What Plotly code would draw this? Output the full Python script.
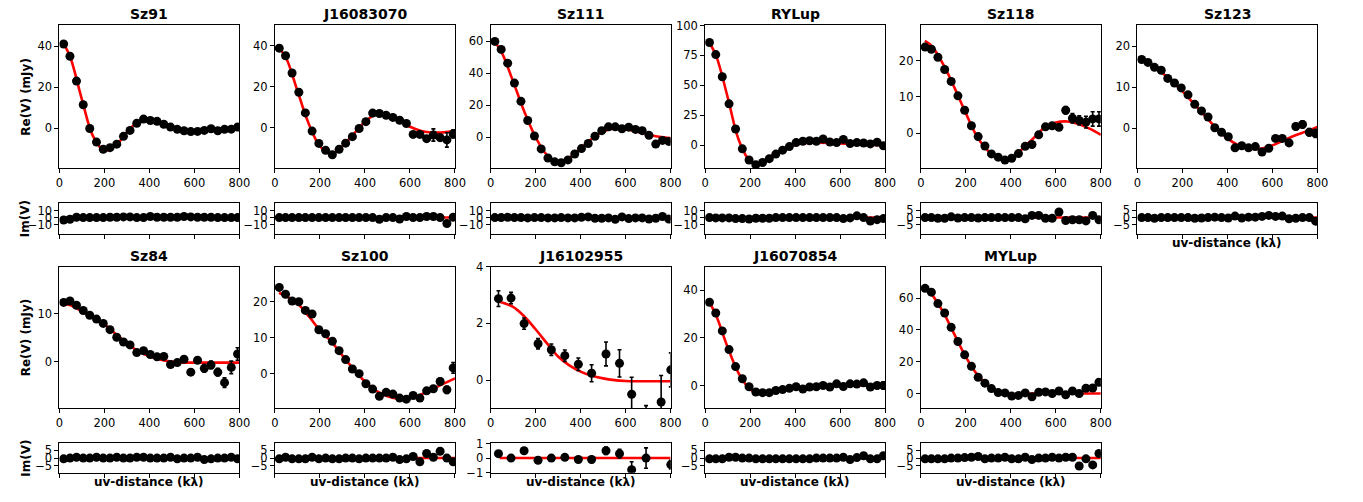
import plotly.graph_objects as go

# ---------------- data ----------------
uv_bins = [19, 47, 76, 106, 135, 165, 195, 225, 255, 285, 314, 344, 374, 404,
           434, 464, 494, 524, 554, 584, 614, 644, 674, 704, 734, 764, 792]
model_uv = [18, 50, 100, 150, 200, 250, 300, 350, 400, 450, 500, 550, 600, 650, 700, 750, 800]
x_ticks = [0, 200, 400, 600, 800]

sz91_re = [41, 35, 22.9, 11.4, -0.2, -6.8, -10.3, -9.5, -7.8, -4, -1.1, 2.4, 4.4, 3.7,
           3.3, 1.9, 0.5, -0.6, -1.3, -1.7, -1.6, -1.1, -0.3, -1.3, -0.6, -0.5, 0.5]
sz91_re_err = [0.4] * 27
sz91_im = [-3.5, -2.5, 0.5, 0, 0, 0, 0, 0.5, 0.5, 1, 1, 0, 0, 1.5, 0.5, 0.5, 0.5, 0.5,
           1.5, 1, 0.5, 0.5, 0.5, 0, 0, 0, 0]
sz91_im_err = [0.4] * 27
sz91_model = [41.5, 34, 14, -4, -11, -8.5, -2, 3, 4.2, 2.8, 0.5, -1, -1.5, -1, -0.3, 0.1, 0.2]

j1608_re = [38.9, 35.2, 26.8, 17.4, 7.3, -1.6, -7.6, -11, -13.2, -10.5, -7.5, -4.3, -0.3, 3.0,
            7.2, 7.0, 6.1, 5.1, 3.7, 2.1, -3.2, -3.2, -5.3, -3.5, -4.8, -5.9, -3.0]
j1608_re_err = [0.5] * 22 + [0.8, 3.0, 1.5, 3.5, 2.0]
j1608_im = [0, 0, 0, 0, 0, 0, 0, 0, 0, 0, 0, 0, 0, 0, 0, -2.5, 0, 0, -2, 1.5, 0, 0, 1.5,
            1.5, 0, -8.5, 0.5]
j1608_im_err = [0.5] * 27
j1608_model = [39, 34, 18, 2, -9, -13, -9, -3, 3, 6.5, 6, 3.5, 0.5, -1.5, -2.3, -2.2, -1.3]

sz111_re = [60, 55, 46.4, 33.9, 22.5, 10.5, 0.8, -7.3, -13, -15.4, -16, -14.2, -10.5, -7.1,
            -3.9, 0.6, 4.1, 6.5, 6.5, 5.3, 6.3, 4.9, 4.1, 1.2, -4.3, -2.0, -2.6]
sz111_re_err = [0.5] * 27
sz111_im = [0, 0, 0.5, 0, 0, -0.5, 0, 0, -0.5, -0.5, 0, -0.5, -0.5, 0.5, 1, -1, -1, -0.5,
            -2.5, 1, -1.5, -0.5, -0.5, -2, -1, 1.5, -2]
sz111_im_err = [0.5] * 27
sz111_model = [60, 53, 35, 16, 0, -11, -15.5, -13, -7, -1, 3.5, 5.5, 5, 3.5, 1.8, 0.3, -0.5]

rylup_re = [85.8, 75.7, 57.2, 34.6, 13.6, -3.0, -12.3, -16.3, -14.4, -11.2, -7.4, -4.1, -1.1,
            2.2, 3.3, 3.8, 3.3, 5.2, 2.7, 2.2, 4.9, 1.4, 2.2, 1.9, 1.1, 2.5, -0.5]
rylup_re_err = [0.6] * 27
rylup_im = [0, -0.5, -0.5, -0.5, -1.5, -1.5, -2, -1, -1, -1, 0, 0, 0, 0, 0, 0, 0, 0, 0, 0,
            -1.5, -0.5, 2.5, 0, -5, -3, -1.5]
rylup_im_err = [0.6] * 27
rylup_model = [86, 74, 40, 4, -13, -14, -8, -3, 0.5, 2, 2.2, 2, 1.5, 1, 0.5, 0.2, 0]

sz118_re = [23.8, 23.2, 21.0, 17.6, 14.3, 10.3, 6.3, 2.0, -1.0, -3.6, -5.8, -6.7, -7.5, -7.0,
            -5.7, -3.7, -3.2, -0.5, 1.7, 2.0, 1.6, 6.3, 4.1, 3.5, 3.0, 3.9, 3.9]
sz118_re_err = [0.3] * 21 + [1.0, 1.3, 1.3, 1.6, 2.0, 2.0]
sz118_im = [0, 0, -0.5, -0.5, 0.5, -0.3, 0, 0, -0.3, 0, 0, 0, 0, 0, 0, -0.8, 1.5, 1.5, -0.5,
            -0.5, 3.8, -2, -1.5, -1.5, -2.3, 1.5, -1.5]
sz118_im_err = [0.3] * 27
sz118_model = [25.5, 24, 19, 12.5, 5.5, -1, -5, -7, -7, -4.5, -1.5, 1.5, 2.9, 3.2, 2.5, 1.2, -0.5]

sz123_re = [16.7, 16.0, 14.8, 14.1, 12.1, 11.0, 9.8, 8.1, 5.8, 4.2, 2.7, 0.1, -1.0, -2.1,
            -4.8, -4.3, -4.8, -4.5, -5.8, -4.9, -2.5, -2.5, -3.6, 0.4, 0.9, -1.0, -1.3]
sz123_re_err = [0.3] * 20 + [0.6, 0.6, 0.8, 0.8, 0.9, 0.9, 1.0]
sz123_im = [0, 0, -0.5, 0, 0, 0, 0, 0, -0.5, -0.3, 0, 0.3, 0, -0.3, 1, -0.3, 0.3, 0.3,
            0.8, 1.5, 0.8, 1, -0.8, -0.5, 0, 0, -2.5]
sz123_im_err = [0.3] * 27
sz123_model = [16.5, 16, 14, 11.5, 9, 6, 3, 0, -2.5, -4.2, -5, -5, -4.2, -3, -1.8, -0.8, 0.3]

sz84_re = [12.4, 12.7, 11.8, 10.7, 9.7, 8.9, 8.0, 6.7, 5.1, 4.1, 3.5, 1.9, 2.3, 1.5, 1.0,
           1.1, -0.6, -0.2, 0.5, -2.2, 0.3, -1.4, -0.7, -2.2, -4.4, -1.2, 1.6]
sz84_re_err = [0.3] * 21 + [0.8, 0.8, 0.8, 1.0, 1.3, 1.3]
sz84_im = [-0.5, 0, 0.5, 0, 0, 0.5, 0, 0, 0.5, 0, 0, 0.5, 0.5, 0, 0, 0, 0.5, -0.5, 0, 0,
           0.5, -1, -0.5, 0, 0, 0.5, -0.5]
sz84_im_err = [0.3] * 27
sz84_model = [12.2, 11.8, 10.5, 9.2, 7.8, 5.8, 3.9, 2.2, 1.1, 0.4, 0, -0.2, -0.2, -0.2, -0.2, -0.2, -0.2]

sz100_re = [24.0, 22.1, 20.2, 20.0, 17.6, 16.6, 12.2, 11.1, 9.0, 6.4, 3.9, 1.3, 0, -2.8,
            -4.3, -6.3, -5.2, -5.7, -6.8, -7.1, -6.1, -6.8, -4.8, -4.2, -2.2, -4.5, 1.6]
sz100_re_err = [0.3] * 24 + [1.0, 1.0, 1.5]
sz100_im = [-0.5, 0.5, -0.5, -0.5, -0.5, 0.5, -0.5, 0, -0.5, -0.5, 0, 0, -0.5, 0, 0, 0, 0,
            0.5, -1, -0.5, 1, -2.5, 3, 0.5, 4.5, 0, -2.5]
sz100_im_err = [0.3] * 27
sz100_model = [22.5, 21.5, 19.5, 16, 12, 9, 5, 1.2, -2.2, -4.8, -6.3, -7, -6.8, -5.8, -4.3, -2.8, -1.3]

j1610_uv = [35, 91, 149, 211, 270, 330, 390, 449, 513, 573, 627, 691, 758, 801]
j1610_re = [2.87, 2.89, 1.99, 1.28, 1.07, 0.86, 0.56, 0.24, 0.92, 0.59, -0.5, -1.5, -0.77, 0.36]
j1610_re_err = [0.28, 0.2, 0.2, 0.18, 0.2, 0.2, 0.22, 0.3, 0.42, 0.48, 0.6, 0.6, 0.93, 0.6]
j1610_im = [0.3, 0.0, 0.5, -0.15, 0.0, 0.05, -0.1, -0.1, 0.5, 0.3, -0.8, 0.0, -1.6, -0.45]
j1610_im_err = [0.2, 0.1, 0.1, 0.1, 0.1, 0.1, 0.15, 0.2, 0.25, 0.3, 0.55, 0.7, 0.4, 0.3]
j1610_model_uv = [40, 100, 150, 200, 250, 300, 350, 400, 450, 500, 550, 600, 650, 700, 750, 800]
j1610_model = [2.76, 2.58, 2.24, 1.79, 1.3, 0.83, 0.52, 0.3, 0.15, 0.06, 0.0, -0.03, -0.04,
               -0.04, -0.04, -0.04]

j1607_re = [34.9, 30.4, 22.9, 15.1, 8.0, 2.9, -0.4, -2.6, -2.9, -2.9, -2.0, -1.6, -1.1, -0.4,
            -1.4, -0.5, -0.4, 0.1, -0.5, 0.8, -0.3, 0.8, 0.7, 1.2, -0.5, 0.1, 0.1]
j1607_re_err = [0.3] * 26 + [1.5]
j1607_im = [-0.5, -0.5, -0.5, 0.5, 0.5, 0, 0, -0.5, -0.5, -0.5, -0.5, -0.5, -0.5, -0.5, -0.5,
            -0.5, 0, 0, 0, 0, 0.5, -1, 0.3, 1.5, -0.5, -0.5, 1.5]
j1607_im_err = [0.3] * 27
j1607_model = [35, 29, 16, 5, -1.5, -2.8, -2.5, -1.6, -0.8, -0.3, 0, 0.1, 0.1, 0.1, 0.1, 0.1, 0.1]

mylup_re = [66.1, 63.7, 56.5, 50.6, 41.6, 32.7, 24.3, 17.1, 10.2, 6.5, 3.1, 0.6, 0.4, -1.6,
            -1.2, 0.4, -2.0, 0.8, 1.0, 0, 1.6, -0.8, 1.6, 0, 3.3, 3.5, 7.1]
mylup_re_err = [0.5] * 24 + [1.0, 1.5, 2.0]
mylup_im = [-0.5, -0.5, -0.5, -0.5, 0, 0, 0.3, 0.5, 1, -0.5, 0, 0, 0.5, -0.5, -0.5, 0.5, -1,
            0, 0, 0.5, 0, 0.5, 0.5, -5.2, -0.5, -4.5, 3.0]
mylup_im_err = [0.5] * 27
mylup_model = [66, 62, 51, 37, 23, 12, 5, 1, -0.3, -0.3, 0, 0, 0, 0, 0, 0, 0]

im_model_level = 0.0

panels = [
    dict(name="Sz91", uv=uv_bins, re=sz91_re, re_err=sz91_re_err, im=sz91_im, im_err=sz91_im_err,
         muv=model_uv, model=sz91_model, yr=[-19.6, 50], dt=20, imr=[-23, 20.5], imt=[-10, 0, 10]),
    dict(name="J16083070", uv=uv_bins, re=j1608_re, re_err=j1608_re_err, im=j1608_im, im_err=j1608_im_err,
         muv=model_uv, model=j1608_model, yr=[-19.8, 50], dt=20, imr=[-23, 20.5], imt=[-10, 0, 10]),
    dict(name="Sz111", uv=uv_bins, re=sz111_re, re_err=sz111_re_err, im=sz111_im, im_err=sz111_im_err,
         muv=model_uv, model=sz111_model, yr=[-19.5, 70], dt=20, imr=[-23, 20.5], imt=[-10, 0, 10]),
    dict(name="RYLup", uv=uv_bins, re=rylup_re, re_err=rylup_re_err, im=rylup_im, im_err=rylup_im_err,
         muv=model_uv, model=rylup_model, yr=[-19.3, 100], dt=25, imr=[-23, 20.5], imt=[-10, 0, 10]),
    dict(name="Sz118", uv=uv_bins, re=sz118_re, re_err=sz118_re_err, im=sz118_im, im_err=sz118_im_err,
         muv=model_uv, model=sz118_model, yr=[-9.8, 29.8], dt=10, imr=[-11, 9.8], imt=[-5, 0, 5]),
    dict(name="Sz123", uv=uv_bins, re=sz123_re, re_err=sz123_re_err, im=sz123_im, im_err=sz123_im_err,
         muv=model_uv, model=sz123_model, yr=[-9.8, 25], dt=10, imr=[-11, 9.8], imt=[-5, 0, 5]),
    dict(name="Sz84", uv=uv_bins, re=sz84_re, re_err=sz84_re_err, im=sz84_im, im_err=sz84_im_err,
         muv=model_uv, model=sz84_model, yr=[-9.8, 19.9], dt=10, imr=[-9.6, 9.6], imt=[-5, 0, 5]),
    dict(name="Sz100", uv=uv_bins, re=sz100_re, re_err=sz100_re_err, im=sz100_im, im_err=sz100_im_err,
         muv=model_uv, model=sz100_model, yr=[-9.7, 29.8], dt=10, imr=[-9.6, 9.6], imt=[-5, 0, 5]),
    dict(name="J16102955", uv=j1610_uv, re=j1610_re, re_err=j1610_re_err, im=j1610_im, im_err=j1610_im_err,
         muv=j1610_model_uv, model=j1610_model, yr=[-1, 4], dt=2, imr=[-1, 1], imt=[-1, 0, 1]),
    dict(name="J16070854", uv=uv_bins, re=j1607_re, re_err=j1607_re_err, im=j1607_im, im_err=j1607_im_err,
         muv=model_uv, model=j1607_model, yr=[-9.5, 49.8], dt=20, imr=[-9.6, 9.6], imt=[-5, 0, 5]),
    dict(name="MYLup", uv=uv_bins, re=mylup_re, re_err=mylup_re_err, im=mylup_im, im_err=mylup_im_err,
         muv=model_uv, model=mylup_model, yr=[-9.4, 79.8], dt=20, imr=[-9.6, 9.6], imt=[-5, 0, 5]),
]

# ---------------- layout geometry (pixels) ----------------
W, H = 1363, 502
col_left = [56, 274, 492, 709, 927, 1146]
col_w = 182
rows = [dict(main=(19, 166), im=(202, 233)), dict(main=(267, 413), im=(449, 479))]
FONT = "DejaVu Sans"


def px_x(p):
    return p / W


def dom_y(top, bot):
    return [1 - bot / H, 1 - top / H]


fig = go.Figure()
layout = dict(width=W, height=H, margin=dict(l=0, r=0, t=0, b=0), showlegend=False,
              plot_bgcolor="white", paper_bgcolor="white",
              font=dict(family=FONT, size=11.5, color="black"))
annotations = []

axis_common = dict(showline=True, linecolor="black", linewidth=1, mirror=True, showgrid=False,
                   zeroline=False, ticks="outside", ticklen=4, tickwidth=1, tickcolor="black",
                   tickfont=dict(family=FONT, size=11.5, color="black"))

for i, p in enumerate(panels):
    r, c = divmod(i, 6)
    xd = [px_x(col_left[c]), px_x(col_left[c] + col_w)]
    main_dom = dom_y(*rows[r]["main"])
    im_dom = dom_y(*rows[r]["im"])
    a_main = 2 * i + 1
    a_im = 2 * i + 2
    for a, yd, showlab in ((a_main, main_dom, True), (a_im, im_dom, False)):
        xn = "xaxis" if a == 1 else f"xaxis{a}"
        yn = "yaxis" if a == 1 else f"yaxis{a}"
        layout[xn] = dict(axis_common, domain=xd, anchor=f"y{a}" if a > 1 else "y",
                          range=[0, 800], tickvals=x_ticks, showticklabels=showlab)
        layout[yn] = dict(axis_common, domain=yd, anchor=f"x{a}" if a > 1 else "x")
    ym = "yaxis" if a_main == 1 else f"yaxis{a_main}"
    layout[ym]["range"] = p["yr"]
    layout[ym]["dtick"] = p["dt"]
    layout[ym]["tick0"] = 0
    layout[f"yaxis{a_im}"]["range"] = p["imr"]
    layout[f"yaxis{a_im}"]["tickvals"] = p["imt"]

    xr = "x" if a_main == 1 else f"x{a_main}"
    yr = "y" if a_main == 1 else f"y{a_main}"
    # model (red) on real part
    fig.add_trace(go.Scatter(x=p["muv"], y=p["model"], mode="lines", xaxis=xr, yaxis=yr,
                             line=dict(color="red", width=2.6, shape="spline", smoothing=1.0),
                             hoverinfo="skip"))
    fig.add_trace(go.Scatter(x=p["uv"], y=p["re"], mode="markers", xaxis=xr, yaxis=yr,
                             marker=dict(color="black", size=9),
                             error_y=dict(type="data", array=p["re_err"], color="black",
                                          thickness=1.6, width=2)))
    # imaginary part
    xi, yi = f"x{a_im}", f"y{a_im}"
    fig.add_trace(go.Scatter(x=[p["muv"][0], p["muv"][-1]], y=[im_model_level, im_model_level],
                             mode="lines", xaxis=xi, yaxis=yi,
                             line=dict(color="red", width=2.6), hoverinfo="skip"))
    fig.add_trace(go.Scatter(x=p["uv"], y=p["im"], mode="markers", xaxis=xi, yaxis=yi,
                             marker=dict(color="black", size=9),
                             error_y=dict(type="data", array=p["im_err"], color="black",
                                          thickness=1.6, width=2)))

    # title
    annotations.append(dict(text=f"<b>{p['name']}</b>", x=(xd[0] + xd[1]) / 2, y=main_dom[1],
                            xref="paper", yref="paper", xanchor="center", yanchor="bottom",
                            yshift=1, showarrow=False, font=dict(family=FONT, size=14, color="black")))
    # uv-distance label (visible only where not hidden by the next row's titles)
    if r == 1 or c == 5:
        annotations.append(dict(text="<b>uv-distance (k\u03bb)</b>", x=(xd[0] + xd[1]) / 2,
                                y=im_dom[0], xref="paper", yref="paper", xanchor="center",
                                yanchor="top", yshift=0, showarrow=False,
                                font=dict(family=FONT, size=12, color="black")))
    if c == 0:
        annotations.append(dict(text="<b>Re(V) (mJy)</b>", x=px_x(22), y=(main_dom[0] + main_dom[1]) / 2,
                                xref="paper", yref="paper", xanchor="center", yanchor="middle",
                                textangle=-90, showarrow=False,
                                font=dict(family=FONT, size=12, color="black")))
        annotations.append(dict(text="<b>Im(V)</b>", x=px_x(22), y=(im_dom[0] + im_dom[1]) / 2,
                                xref="paper", yref="paper", xanchor="center", yanchor="middle",
                                textangle=-90, showarrow=False,
                                font=dict(family=FONT, size=12, color="black")))

layout["annotations"] = annotations
fig.update_layout(**layout)
fig.write_html("out.html")
